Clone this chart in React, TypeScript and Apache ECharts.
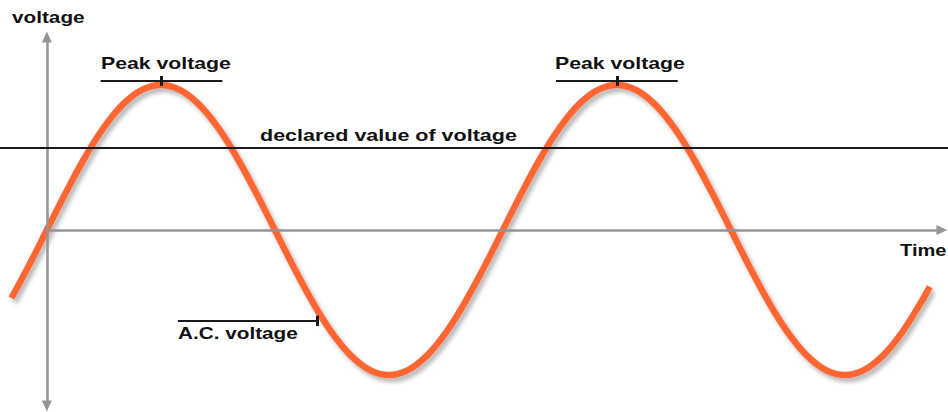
import React, { useEffect, useRef } from "react";
import * as echarts from "echarts";

// Time axis in phase degrees, voltage in units of peak voltage
const timeDeg = [
  -28, -15, 0, 15, 30, 45, 60, 75, 90, 105, 120, 135, 150, 165, 180, 195, 210, 225, 240, 255, 270,
  285, 300, 315, 330, 345, 360, 375, 390, 405, 420, 435, 450, 465, 480, 495, 510, 525, 540, 555,
  570, 585, 600, 615, 630, 645, 660, 675, 690, 697,
];
const voltage = [
  -0.469, -0.259, 0, 0.259, 0.5, 0.707, 0.866, 0.966, 1, 0.966, 0.866, 0.707, 0.5, 0.259, 0, -0.259,
  -0.5, -0.707, -0.866, -0.966, -1, -0.966, -0.866, -0.707, -0.5, -0.259, 0, 0.259, 0.5, 0.707,
  0.866, 0.966, 1, 0.966, 0.866, 0.707, 0.5, 0.259, 0, -0.259, -0.5, -0.707, -0.866, -0.966, -1,
  -0.966, -0.866, -0.707, -0.5, -0.391,
];

const xRange = [-37, 711.4];
const yRange = [-1.255, 1.586];

const declaredValue = 0.569;
const peakLevel = 1.028;
const peakCenters = [90.5, 450];
const peakHalfWidth = 48;
const acLevel = -0.626;
const acSpan = [103.4, 213.2];
const axisEnds = { xEnd: 706.6, yTop: 1.331, yBottom: -1.214 };

const labels = {
  yTitle: "voltage",
  xTitle: "Time",
  peak: "Peak voltage",
  declared: "declared value of voltage",
  ac: "A.C. voltage",
};

const FONT = '"Liberation Sans", Arial, Helvetica, sans-serif';

export default function App() {
  const ref = useRef<HTMLDivElement>(null);

  useEffect(() => {
    if (!ref.current) return;
    const chart = echarts.init(ref.current, undefined, { renderer: "svg" });

    const blackLine = { color: "#1a1a1a", width: 2, type: "solid" as const };
    const tickLine = { color: "#1a1a1a", width: 3, type: "solid" as const };

    const annotationLines: any[] = [];
    annotationLines.push([
      { coord: [xRange[0], declaredValue], lineStyle: blackLine },
      { coord: [xRange[1], declaredValue] },
    ]);
    peakCenters.forEach((c) => {
      annotationLines.push([
        { coord: [c - peakHalfWidth, peakLevel], lineStyle: blackLine },
        { coord: [c + peakHalfWidth, peakLevel] },
      ]);
      annotationLines.push([
        { coord: [c, peakLevel + 0.034], lineStyle: tickLine },
        { coord: [c, peakLevel - 0.034] },
      ]);
    });
    annotationLines.push([
      { coord: [acSpan[0], acLevel], lineStyle: blackLine },
      { coord: [acSpan[1], acLevel] },
    ]);
    annotationLines.push([
      { coord: [acSpan[1], acLevel + 0.036], lineStyle: tickLine },
      { coord: [acSpan[1], acLevel - 0.036] },
    ]);

    const textEl = (text: string, x: number, y: number, sx: number) => ({
      type: "text",
      x,
      y,
      scaleX: sx,
      z: 10,
      style: {
        text,
        fontFamily: FONT,
        fontWeight: "bold",
        fontSize: 17,
        fill: "#111",
        align: "left",
        verticalAlign: "middle",
      },
    });

    chart.setOption({
      animation: false,
      backgroundColor: "#ffffff",
      grid: { left: 0, right: 0, top: 0, bottom: 0, containLabel: false },
      xAxis: { type: "value", min: xRange[0], max: xRange[1], show: false },
      yAxis: { type: "value", min: yRange[0], max: yRange[1], show: false },
      series: [
        {
          type: "line",
          name: "axes",
          data: [[0, 0]],
          showSymbol: false,
          symbol: "none",
          lineStyle: { opacity: 0 },
          silent: true,
          z: 1,
          markLine: {
            silent: true,
            animation: false,
            label: { show: false },
            emphasis: { disabled: true },
            lineStyle: { color: "#959595", width: 2.5, type: "solid" },
            symbol: ["none", "triangle"],
            symbolSize: [10, 11],
            data: [
              [{ coord: [0, 0] }, { coord: [axisEnds.xEnd, 0] }],
              [
                { coord: [0, axisEnds.yBottom], symbol: "triangle" },
                { coord: [0, axisEnds.yTop], symbol: "triangle" },
              ],
            ],
          },
        },
        {
          type: "line",
          name: "A.C. voltage",
          data: timeDeg.map((t, i) => [t, voltage[i]]),
          smooth: 0.4,
          showSymbol: false,
          symbol: "none",
          silent: true,
          z: 3,
          lineStyle: {
            color: "#ff6633",
            width: 6.5,
            shadowColor: "rgba(0,0,0,0.28)",
            shadowBlur: 4,
            shadowOffsetX: 3,
            shadowOffsetY: 4,
          },
        },
        {
          type: "line",
          name: "annotations",
          data: [[0, 0]],
          showSymbol: false,
          symbol: "none",
          lineStyle: { opacity: 0 },
          silent: true,
          z: 5,
          markLine: {
            silent: true,
            animation: false,
            label: { show: false },
            emphasis: { disabled: true },
            symbol: ["none", "none"],
            data: annotationLines,
          },
        },
      ],
      graphic: [
        textEl(labels.yTitle, 12, 17, 1.22),
        textEl(labels.peak, 101, 63, 1.25),
        textEl(labels.peak, 555, 63, 1.25),
        textEl(labels.declared, 260, 135, 1.265),
        textEl(labels.ac, 178, 333, 1.22),
        textEl(labels.xTitle, 900, 250, 1.18),
      ],
    });

    return () => chart.dispose();
  }, []);

  return (
    <div
      ref={ref}
      style={{ position: "fixed", left: 0, top: 0, width: 948, height: 412, background: "#fff" }}
    />
  );
}
